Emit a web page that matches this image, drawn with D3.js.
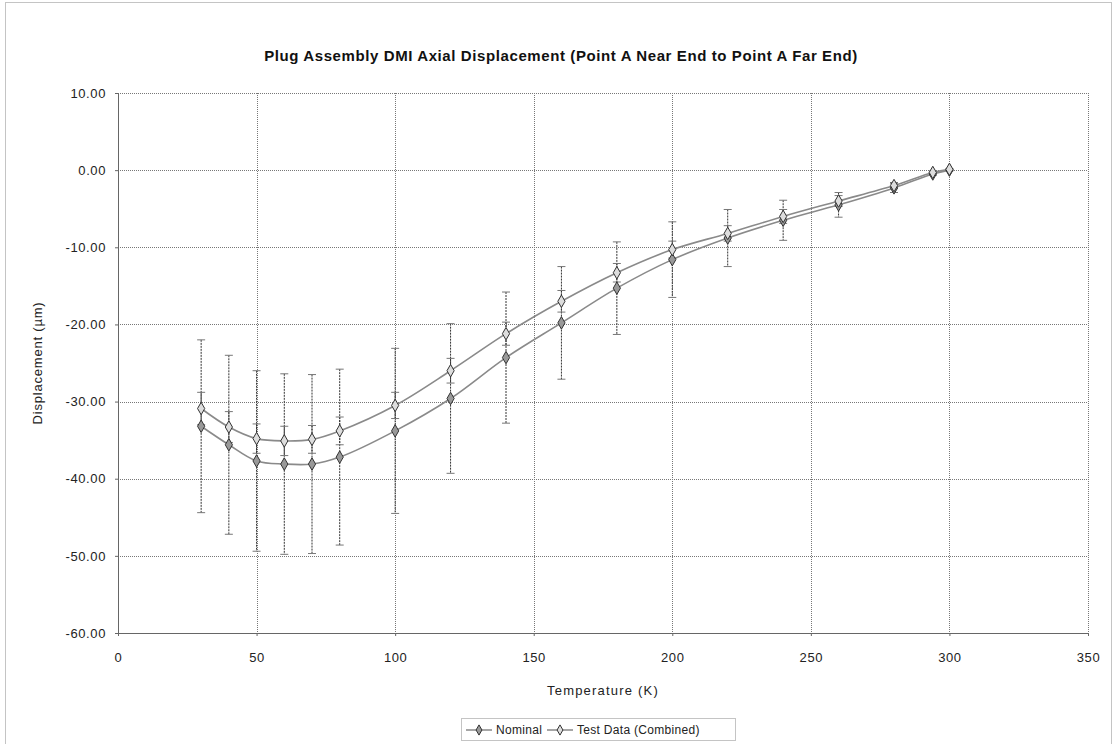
<!DOCTYPE html>
<html>
<head>
<meta charset="utf-8">
<script src="https://cdn.jsdelivr.net/npm/d3@7"></script>
<style>
    body { margin: 0; background: #fff; }
    svg { font-family: Arial, "Liberation Sans", sans-serif; }
</style>
</head>
<body>
<svg width="1114" height="744"></svg>
<script>
// temperatures (K)
var temps = [30, 40, 50, 60, 70, 80, 100, 120, 140, 160, 180, 200, 220, 240, 260, 280, 294, 300];
// nominal displacement (um) and its error
var nominal = [-33.2, -35.6, -37.7, -38.1, -38.1, -37.2, -33.8, -29.6, -24.3, -19.8, -15.3, -11.6, -8.8, -6.5, -4.5, -2.3, -0.5, 0.0];
var nominalErr = [11.2, 11.6, 11.7, 11.7, 11.6, 11.4, 10.7, 9.7, 8.5, 7.3, 6.0, 4.9, 3.7, 2.6, 1.6, 0.6, 0.2, 0.1];
// combined test data displacement (um) and its error
var testData = [-30.9, -33.3, -34.8, -35.1, -34.9, -33.8, -30.5, -26.0, -21.2, -17.0, -13.3, -10.3, -8.2, -6.0, -4.0, -2.0, -0.3, 0.1];
var testErr = [2.1, 2.0, 1.9, 1.9, 1.8, 1.8, 1.7, 1.6, 1.5, 1.4, 1.2, 1.1, 1.0, 0.9, 0.7, 0.4, 0.2, 0.1];

var xTicks = [0, 50, 100, 150, 200, 250, 300, 350];
var yTicks = [10, 0, -10, -20, -30, -40, -50, -60];
var seriesNames = ['Nominal', 'Test Data (Combined)'];

(function () {
    var svg = d3.select('svg');
    var margin = {left: 118, top: 93, right: 26, bottom: 111};
    var width = 1114 - margin.left - margin.right;
    var height = 744 - margin.top - margin.bottom;

    // outer chart border
    svg.append('rect')
        .attr('x', 5.5).attr('y', 2.5)
        .attr('width', 1106).attr('height', 760)
        .attr('fill', 'none')
        .attr('stroke', '#888')
        .attr('stroke-dasharray', '1,1');

    svg.append('text')
        .attr('x', 561).attr('y', 61)
        .attr('text-anchor', 'middle')
        .style('font-size', '15px')
        .style('font-weight', 'bold')
        .style('letter-spacing', '0.6px')
        .attr('fill', '#111')
        .text('Plug Assembly DMI Axial Displacement (Point A Near End to Point A Far End)');

    var x = d3.scaleLinear().domain([0, 350]).range([0, width]);
    var y = d3.scaleLinear().domain([-60, 10]).range([height, 0]);

    var g = svg.append('g')
        .attr('transform', `translate(${margin.left}, ${margin.top})`);

    // grid
    g.append('g')
        .selectAll('line')
        .data(yTicks)
        .enter()
        .append('line')
        .attr('x1', 0).attr('x2', width)
        .attr('y1', function(d) { return Math.round(y(d)) + 0.5; })
        .attr('y2', function(d) { return Math.round(y(d)) + 0.5; })
        .attr('stroke', '#777')
        .attr('stroke-dasharray', '1,1');

    g.append('g')
        .selectAll('line')
        .data(xTicks)
        .enter()
        .append('line')
        .attr('y1', 0).attr('y2', height)
        .attr('x1', function(d) { return Math.round(x(d)) + 0.5; })
        .attr('x2', function(d) { return Math.round(x(d)) + 0.5; })
        .attr('stroke', '#777')
        .attr('stroke-dasharray', '1,1');

    // axes (hyphen minus, as in the original)
    var yFormat = function(d) { return d3.format('.2f')(d).replace('\u2212', '-'); };
    var xAxis = g.append('g')
        .attr('transform', `translate(0, ${height})`)
        .call(d3.axisBottom(x).tickValues(xTicks).tickSize(3).tickFormat(d3.format('d')));
    var yAxis = g.append('g')
        .call(d3.axisLeft(y).tickValues(yTicks).tickSize(3).tickFormat(yFormat));

    [xAxis, yAxis].forEach(function(ax) {
        ax.select('.domain').attr('stroke', '#666');
        ax.selectAll('.tick line').attr('stroke', '#666');
        ax.selectAll('text')
            .attr('fill', '#222')
            .style('font-size', '13px')
            .style('letter-spacing', '0.6px')
            .style('font-family', 'Arial, "Liberation Sans", sans-serif');
    });
    xAxis.selectAll('text').attr('dy', '1.75em');
    yAxis.selectAll('text').attr('x', -12);

    svg.append('text')
        .attr('x', margin.left + x(175)).attr('y', 695)
        .attr('text-anchor', 'middle')
        .style('font-size', '13px')
        .style('letter-spacing', '1.2px')
        .attr('fill', '#222')
        .text('Temperature (K)');

    svg.append('text')
        .attr('transform', `translate(42, ${margin.top + y(-25)}) rotate(-90)`)
        .attr('text-anchor', 'middle')
        .style('font-size', '13px')
        .style('letter-spacing', '0.8px')
        .attr('fill', '#222')
        .text('Displacement (\u00b5m)');

    var series = [
        {name: seriesNames[0], values: nominal, err: nominalErr, symbol: d3.symbolDiamond, fill: '#999'},
        {name: seriesNames[1], values: testData, err: testErr, symbol: d3.symbolDiamond, fill: '#ddd'}
    ];

    var line = d3.line()
        .x(function(d, i) { return x(temps[i]); })
        .y(function(d) { return y(d); })
        .curve(d3.curveCatmullRom);

    series.forEach(function(s) {
        // error bars
        var eb = g.append('g').selectAll('g')
            .data(s.values)
            .enter()
            .append('g')
            .attr('stroke', '#333')
            .attr('stroke-width', 1);
        eb.append('line')
            .attr('x1', function(d, i) { return x(temps[i]); })
            .attr('x2', function(d, i) { return x(temps[i]); })
            .attr('y1', function(d, i) { return y(d + s.err[i]); })
            .attr('y2', function(d, i) { return y(d - s.err[i]); })
            .attr('stroke-dasharray', '2,1');
        [1, -1].forEach(function(sign) {
            eb.append('line')
                .attr('x1', function(d, i) { return x(temps[i]) - 4; })
                .attr('x2', function(d, i) { return x(temps[i]) + 4; })
                .attr('y1', function(d, i) { return y(d + sign * s.err[i]); })
                .attr('y2', function(d, i) { return y(d + sign * s.err[i]); })
                .attr('stroke', '#777');
        });

        g.append('path')
            .datum(s.values)
            .attr('d', line)
            .attr('fill', 'none')
            .attr('stroke', '#8a8a8a')
            .attr('stroke-width', 1.6);
    });

    series.forEach(function(s) {
        g.append('g').selectAll('path')
            .data(s.values)
            .enter()
            .append('path')
            .attr('transform', function(d, i) {
                return `translate(${x(temps[i])}, ${y(d)})`;
            })
            .attr('d', d3.symbol().type(s.symbol).size(45))
            .attr('fill', s.fill)
            .attr('stroke', '#333')
            .attr('stroke-width', 1);
    });

    // legend
    var legend = svg.append('g').attr('transform', 'translate(461, 718)');
    legend.append('rect')
        .attr('x', 0.5).attr('y', 0.5)
        .attr('width', 274).attr('height', 22)
        .attr('fill', '#fff')
        .attr('stroke', '#888')
        .attr('stroke-dasharray', '1,1');

    var items = legend.selectAll('g.item')
        .data(series)
        .enter()
        .append('g')
        .attr('class', 'item')
        .attr('transform', function(d, i) {
            return `translate(${i === 0 ? 5 : 86}, 12)`;
        });
    items.append('line')
        .attr('x1', 0).attr('x2', 26)
        .attr('stroke', '#888')
        .attr('stroke-width', 1.5);
    items.append('path')
        .attr('transform', 'translate(13, 0)')
        .attr('d', function(d) { return d3.symbol().type(d.symbol).size(30)(); })
        .attr('fill', function(d) { return d.fill; })
        .attr('stroke', '#333');
    items.append('text')
        .attr('x', 30).attr('dy', '0.35em')
        .style('font-size', '12px')
        .style('letter-spacing', '0.3px')
        .attr('fill', '#222')
        .text(function(d) { return d.name; });
}());
</script>
</body>
</html>
